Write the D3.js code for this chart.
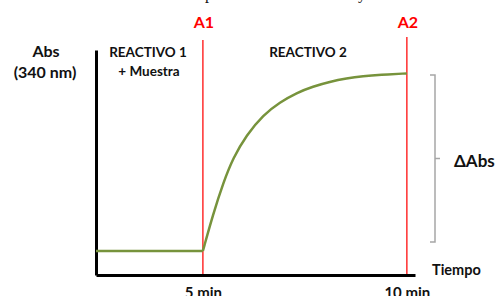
<!DOCTYPE html>
<html>
<head>
<meta charset="utf-8">
<script src="https://cdn.jsdelivr.net/npm/d3@7"></script>
<style>
  body { margin: 0; background: #fff; }
  svg { display: block; }
  text { font-family: Lato, "Open Sans", sans-serif; font-weight: bold; fill: #111; }
</style>
</head>
<body>
<div id="chart"></div>
<script>
// data (time in min, absorbance in relative units)
var flatTime = [2.38, 5.0];
var flatAbs = [0.107, 0.107];
var curveTime = [5.0, 5.25, 5.5, 5.74, 6.07, 6.48, 6.89, 7.30, 7.70, 8.11, 8.52, 8.93, 9.34, 10.0];
var curveAbs = [0.107, 0.270, 0.410, 0.520, 0.622, 0.712, 0.768, 0.810, 0.838, 0.859, 0.874, 0.884, 0.890, 0.896];
var markerTimes = [5, 10];
var markerNames = ["A1", "A2"];
var tickLabels = ["5 min", "10 min"];
var deltaRange = [0.147, 0.889];

var svgWidth = 501;
var svgHeight = 296;

var svg = d3.select("#chart")
  .append("svg")
  .attr("width", svgWidth)
  .attr("height", svgHeight);

var x = d3.scaleLinear().domain([2.38, 10.2]).range([96, 415]);
var y = d3.scaleLinear().domain([0, 1]).range([275, 50]);

// cut-off text from the page above
svg.append("text").attr("x", 209).attr("y", -1)
  .attr("text-anchor", "middle")
  .style("font-family", "Liberation Serif").style("font-weight", "normal")
  .style("font-size", "16px").text("p");
svg.append("text").attr("x", 362).attr("y", -1)
  .attr("text-anchor", "middle")
  .style("font-family", "Liberation Serif").style("font-weight", "normal")
  .style("font-size", "16px").text("y");

// red marker lines
markerTimes.forEach(function(t, i) {
  svg.append("line")
    .attr("x1", x(t)).attr("x2", x(t))
    .attr("y1", i === 0 ? 40 : 37).attr("y2", 275)
    .attr("stroke", "#ff3b3b")
    .attr("stroke-width", 1.6);
  svg.append("text")
    .attr("x", x(t) + 1).attr("y", 28)
    .attr("text-anchor", "middle")
    .style("font-size", "16px")
    .style("fill", "#ff0000")
    .text(markerNames[i]);
});

// axes
var bottomAxis = d3.axisBottom(x)
  .tickValues(markerTimes)
  .tickSize(0)
  .tickSizeOuter(0)
  .tickFormat(function(d, i) { return tickLabels[i]; });

var xAxis = svg.append("g")
  .attr("transform", "translate(0," + y(0) + ")")
  .call(bottomAxis);
xAxis.select(".domain").attr("stroke", "#000").attr("stroke-width", 3);
xAxis.selectAll("text")
  .attr("y", 23).attr("dy", 0)
  .style("font-size", "15px")
  .style("font-family", "Lato, sans-serif")
  .attr("fill", "#111");

var yAxis = svg.append("g")
  .attr("transform", "translate(" + x(2.38) + ",0)")
  .call(d3.axisLeft(y).tickValues([]).tickSizeOuter(0));
yAxis.select(".domain").attr("stroke", "#000").attr("stroke-width", 3);

// green absorbance line
var line = d3.line()
  .x(function(d) { return x(d[0]); })
  .y(function(d) { return y(d[1]); });

svg.append("path")
  .datum(d3.zip(flatTime, flatAbs))
  .attr("d", line)
  .attr("fill", "none")
  .attr("stroke", "#77933c")
  .attr("stroke-width", 2.5);

svg.append("path")
  .datum(d3.zip(curveTime, curveAbs))
  .attr("d", line.curve(d3.curveBasis))
  .attr("fill", "none")
  .attr("stroke", "#77933c")
  .attr("stroke-width", 2.5);

// bracket for delta Abs
var bx = 435;
var bTop = y(deltaRange[1]);
var bBot = y(deltaRange[0]);
var bMid = (bTop + bBot) / 2;
svg.append("path")
  .attr("d", "M" + (bx - 5) + "," + bTop + "H" + bx + "V" + bBot + "H" + (bx - 5)
    + "M" + bx + "," + bMid + "H" + (bx + 5))
  .attr("fill", "none")
  .attr("stroke", "#a6a6a6")
  .attr("stroke-width", 1.5);

// labels
svg.append("text").attr("x", 46).attr("y", 57).attr("text-anchor", "middle")
  .style("font-size", "16px").text("Abs");
svg.append("text").attr("x", 45).attr("y", 78).attr("text-anchor", "middle")
  .style("font-size", "16px").text("(340 nm)");

svg.append("text").attr("x", 148).attr("y", 57).attr("text-anchor", "middle")
  .style("font-size", "13.5px").text("REACTIVO 1");
svg.append("text").attr("x", 149).attr("y", 76).attr("text-anchor", "middle")
  .style("font-size", "13.5px").text("+ Muestra");
svg.append("text").attr("x", 308).attr("y", 57).attr("text-anchor", "middle")
  .style("font-size", "13.5px").text("REACTIVO 2");

svg.append("text").attr("x", 432).attr("y", 275)
  .style("font-size", "14.5px").text("Tiempo");

svg.append("text").attr("x", 454).attr("y", 167)
  .style("font-size", "17px").text("ΔAbs");
</script>
</body>
</html>
